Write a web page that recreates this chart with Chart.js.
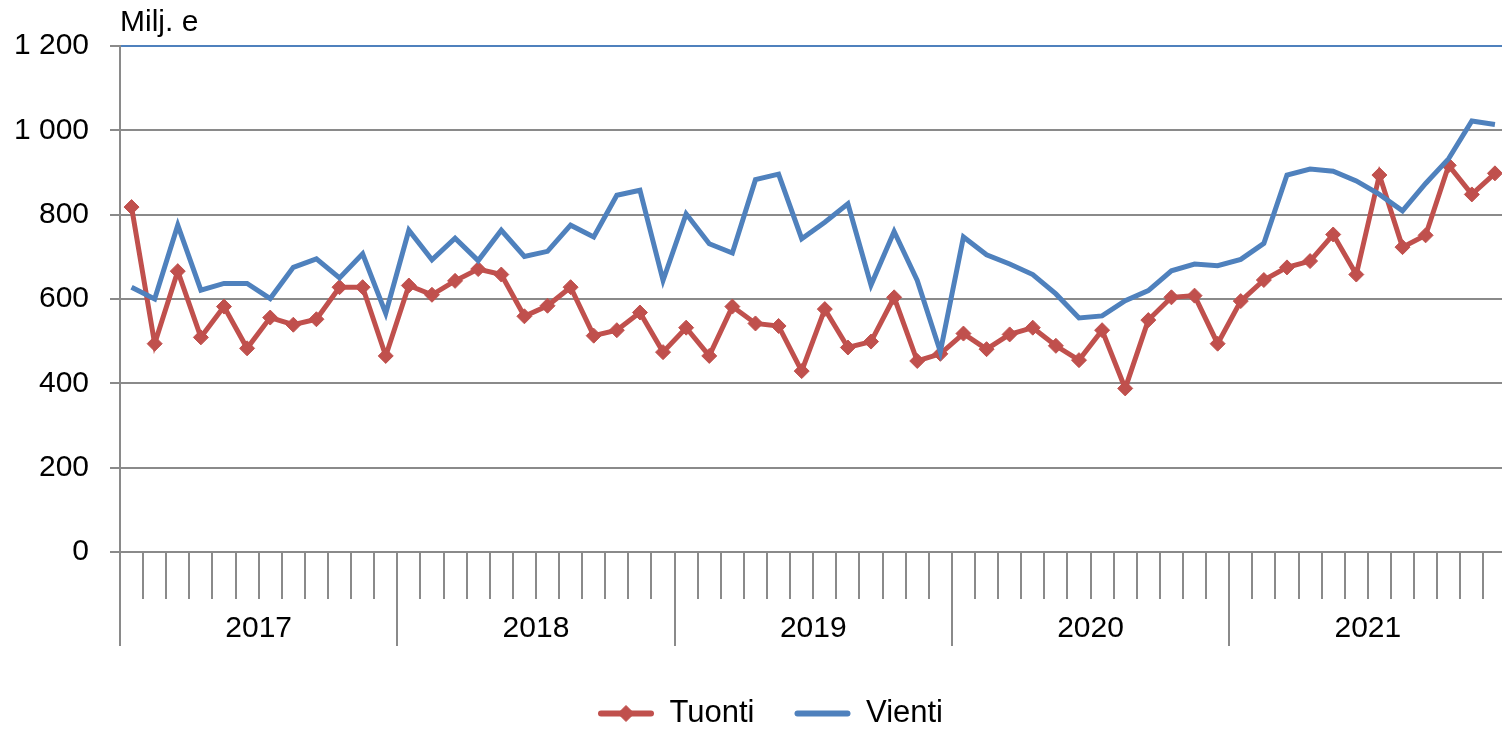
<!DOCTYPE html>
<html>
<head>
<meta charset="utf-8">
<script src="https://cdn.jsdelivr.net/npm/chart.js@4.4.1/dist/chart.umd.min.js"></script>
<style>
  html, body { margin: 0; padding: 0; background: #fff; overflow: hidden; }
  /* the plot area runs a few px past the right edge, as in the reference */
  #clip { width: 1502px; height: 729px; overflow: hidden; }
  #chart { display: block; width: 1515px; height: 729px; }
</style>
</head>
<body>
<div id="clip"><canvas id="chart" width="1515" height="729"></canvas></div>
<script>
// -- Data (milj. e per month) -------------------------------------------
const YEARS = ["2017", "2018", "2019", "2020", "2021"];
const MONTHS = ["1", "2", "3", "4", "5", "6", "7", "8", "9", "10", "11", "12"];

const TUONTI = [
  818, 494, 666, 509, 582, 483, 556, 539, 552, 628, 628, 465,
  632, 610, 643, 671, 658, 559, 584, 628, 513, 526, 568, 474,
  532, 465, 582, 542, 536, 429, 576, 485, 499, 604, 453, 470,
  518, 481, 516, 532, 489, 455, 526, 388, 550, 604, 608, 494,
  595, 645, 675, 690, 753, 658, 894, 723, 751, 917, 848, 898,
];

const VIENTI = [
  628, 600, 775, 621, 637, 637, 601, 675, 695, 650, 707, 566,
  763, 693, 744, 691, 763, 701, 713, 775, 747, 846, 858, 644,
  802, 731, 709, 883, 896, 743, 782, 826, 633, 760, 644, 475,
  747, 705, 683, 658, 612, 555, 560, 596, 620, 667, 683, 679,
  694, 732, 894, 908, 903, 880, 848, 809, 874, 933, 1022, 1014,
];

const Y_TICKS = [0, 200, 400, 600, 800, 1000, 1200];

const monthLabels = YEARS.flatMap((y) => MONTHS.map((m) => m + "/" + y));

// -- Styling ------------------------------------------------------------
const RED = "#C0504D";
const BLUE = "#4F81BD";
const GRID = "#8a8a8a";
const FONT = "'Liberation Sans', Arial, sans-serif";

Chart.defaults.font.family = FONT;
Chart.defaults.color = "#000";

/** "1200" -> "1 200" (Finnish thousands separator). */
function fmtThousands(v) {
  return String(v).replace(/\B(?=(\d{3})+(?!\d))/g, " ");
}

// Legend: nudge to where the reference has it, and add the diamond marker
// on the Tuonti sample line.
const legendTweak = {
  id: "legendTweak",
  afterLayout(chart) {
    const lg = chart.legend;
    if (!lg) return;
    lg.left += 14;
    lg.right += 14;
    lg.top += 10;
    lg.bottom += 10;
  },
  afterDraw(chart) {
    const lg = chart.legend;
    if (!lg || !lg.legendHitBoxes || !lg.legendHitBoxes.length) return;
    const hb = lg.legendHitBoxes[0];
    const bw = lg.options.labels.boxWidth;
    const ctx = chart.ctx;
    ctx.save();
    ctx.fillStyle = RED;
    ctx.strokeStyle = RED;
    Chart.helpers.drawPoint(
      ctx,
      { pointStyle: "rectRot", radius: 8, borderWidth: 1, rotation: 0 },
      hb.left + bw / 2,
      hb.top + hb.height / 2
    );
    ctx.restore();
  },
};

new Chart(document.getElementById("chart"), {
  type: "line",
  data: {
    labels: monthLabels,
    datasets: [
      {
        label: "Tuonti",
        data: TUONTI,
        borderColor: RED,
        backgroundColor: RED,
        borderWidth: 5,
        pointStyle: "rectRot",
        pointRadius: 7.5,
        pointBorderWidth: 1,
        pointBackgroundColor: RED,
        pointBorderColor: RED,
        tension: 0,
        order: 1,
      },
      {
        label: "Vienti",
        data: VIENTI,
        borderColor: BLUE,
        backgroundColor: BLUE,
        borderWidth: 5,
        pointRadius: 0,
        tension: 0,
        order: 0,
      },
    ],
  },
  plugins: [legendTweak],
  options: {
    animation: false,
    responsive: false,
    devicePixelRatio: 1,
    layout: { padding: { left: 0, right: 2, top: 0, bottom: 0 } },
    scales: {
      x: {
        type: "category",
        offset: true,
        weight: 0,
        grid: {
          drawOnChartArea: false,
          offset: true,
          tickLength: 47,
          color: GRID,
          lineWidth: 2,
        },
        border: { display: false },
        ticks: { display: false, autoSkip: false },
        afterFit: (s) => { s.height = 47; },
      },
      x2: {
        type: "category",
        position: "bottom",
        labels: YEARS,
        offset: true,
        weight: 1,
        grid: {
          drawOnChartArea: false,
          offset: true,
          tickLength: 47,
          color: GRID,
          lineWidth: 2,
        },
        border: { display: false },
        ticks: {
          autoSkip: false,
          maxRotation: 0,
          padding: -35,
          font: { size: 30 },
          color: "#000",
        },
        afterFit: (s) => { s.height = 49; },
      },
      y: {
        min: 0,
        max: 1200,
        afterBuildTicks: (s) => { s.ticks = Y_TICKS.map((v) => ({ value: v })); },
        grid: {
          color: (ctx) => (ctx.tick && ctx.tick.value === 1200 ? BLUE : GRID),
          tickColor: GRID,
          lineWidth: 2,
          tickLength: 10,
        },
        border: { display: true, color: GRID, width: 2 },
        ticks: {
          padding: 21,
          font: { size: 30 },
          color: "#000",
          callback: (v) => fmtThousands(v),
        },
        afterFit: (s) => { s.width = 120; },
      },
    },
    plugins: {
      title: {
        display: true,
        text: "Milj. e",
        align: "start",
        fullSize: false,
        color: "#000",
        font: { size: 30, weight: "normal" },
        padding: { top: 5, bottom: 5 },
      },
      legend: {
        position: "bottom",
        labels: {
          font: { size: 31 },
          color: "#000",
          boxWidth: 56,
          boxHeight: 6,
          padding: 40,
          sort: (a, b) => a.datasetIndex - b.datasetIndex,
          generateLabels: (chart) =>
            chart.data.datasets.map((ds, i) => ({
              text: ds.label,
              fillStyle: ds.borderColor,
              strokeStyle: ds.borderColor,
              lineWidth: 0,
              borderRadius: 3,
              datasetIndex: i,
              hidden: false,
              fontColor: "#000",
            })),
        },
      },
      tooltip: { enabled: false },
    },
  },
});
</script>
</body>
</html>
